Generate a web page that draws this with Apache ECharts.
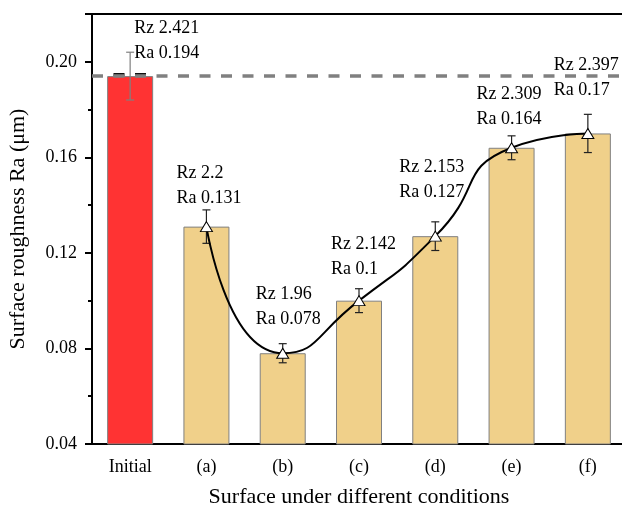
<!DOCTYPE html>
<html>
<head>
<meta charset="utf-8">
<script src="https://cdn.jsdelivr.net/npm/echarts@6/dist/echarts.min.js"></script>
<style>
  html, body { margin: 0; padding: 0; background: #fff; }
  #chart { width: 622px; height: 511px; }
</style>
</head>
<body>
<div id="chart"></div>
<script>
// Surface roughness for each surface condition
const categories = ['Initial', '(a)', '(b)', '(c)', '(d)', '(e)', '(f)'];
const raValues = [0.194, 0.131, 0.078, 0.1, 0.127, 0.164, 0.17];
const rzValues = [2.421, 2.2, 1.96, 2.142, 2.153, 2.309, 2.397];
const raErrors = [0.010, 0.007, 0.004, 0.005, 0.006, 0.005, 0.008];
const yTicks = [0.04, 0.08, 0.12, 0.16, 0.20];

// Placement of the "Rz / Ra" annotation relative to each bar top (pixels)
const labelOffsets = [[4, -10], [-30, -16], [-27, -21], [-28, -19], [-36, -31], [-35, -16], [-34, -31]];

const FONT = 'Liberation Serif';
const RED = '#FF3333';
const TAN = '#F0D08A';
const BAR_WIDTH = 46;
const GRID_LEFT = 92;
const DASH = [11, 10.5];

const chart = echarts.init(document.getElementById('chart'), null, { renderer: 'canvas' });

const barData = raValues.map((v, i) => ({
  value: v,
  itemStyle: { color: i === 0 ? RED : TAN },
  label: { offset: labelOffsets[i] }
}));

const errData = raValues.map((v, i) => [i, v - raErrors[i], v + raErrors[i]]);
const trendData = raValues.map((v, i) => (i === 0 ? '-' : v));

const option = {
  animation: false,
  backgroundColor: '#fff',
  textStyle: { fontFamily: FONT },
  grid: { left: GRID_LEFT, top: 14, width: 534, bottom: 67, containLabel: false, outerBoundsMode: 'none' },
  xAxis: [
    {
      type: 'category',
      data: categories,
      position: 'bottom',
      name: 'Surface under different conditions',
      nameLocation: 'middle',
      nameGap: 42,
      nameTextStyle: { fontFamily: FONT, fontSize: 22, color: '#000' },
      axisLine: { lineStyle: { color: '#000', width: 2 } },
      axisTick: { alignWithLabel: true, length: 7, inside: false, lineStyle: { color: '#000', width: 2 } },
      axisLabel: { fontFamily: FONT, fontSize: 18, color: '#000', margin: 14 },
      splitLine: { show: false }
    },
    {
      type: 'category',
      data: categories,
      position: 'top',
      axisLine: { lineStyle: { color: '#000', width: 2 } },
      axisTick: { show: false },
      axisLabel: { show: false },
      splitLine: { show: false }
    }
  ],
  yAxis: {
    type: 'value',
    min: yTicks[0],
    max: 0.22,
    interval: 0.04,
    name: 'Surface roughness Ra (μm)',
    nameLocation: 'middle',
    nameGap: 63,
    nameTextStyle: { fontFamily: FONT, fontSize: 22, color: '#000' },
    axisLine: { show: true, lineStyle: { color: '#000', width: 2 } },
    axisTick: { show: true, length: 7, lineStyle: { color: '#000', width: 2 } },
    minorTick: { show: true, splitNumber: 2, length: 4, lineStyle: { color: '#000', width: 2 } },
    axisLabel: {
      fontFamily: FONT, fontSize: 18, color: '#000', margin: 15,
      showMaxLabel: false,
      formatter: v => (yTicks.some(t => Math.abs(t - v) < 1e-9) ? v.toFixed(2) : '')
    },
    splitLine: { show: false }
  },
  series: [
    {
      // reference level of the initial surface, drawn beneath the bars
      name: 'initial level',
      type: 'line',
      data: [],
      z: 1,
      markLine: {
        silent: true,
        precision: 3,
        symbol: ['none', 'none'],
        label: { show: false },
        lineStyle: { color: '#808080', width: 3.5, type: DASH },
        data: [{ yAxis: raValues[0] }]
      }
    },
    {
      name: 'Ra',
      type: 'bar',
      data: barData,
      barWidth: BAR_WIDTH,
      z: 2,
      itemStyle: { borderColor: '#808080', borderWidth: 1 },
      label: {
        show: true,
        position: 'top',
        distance: 0,
        align: 'left',
        verticalAlign: 'bottom',
        fontFamily: FONT,
        fontSize: 18,
        lineHeight: 25,
        color: '#000',
        formatter: p => 'Rz ' + rzValues[p.dataIndex] + '\nRa ' + raValues[p.dataIndex]
      }
    },
    {
      name: 'error',
      type: 'custom',
      z: 3,
      data: errData,
      renderItem: (params, api) => {
        const idx = api.value(0);
        const lo = api.coord([idx, api.value(1)]);
        const hi = api.coord([idx, api.value(2)]);
        const cap = 4;
        const color = idx === 0 ? '#808080' : '#222';
        const style = { stroke: color, lineWidth: 1.2 };
        const children = [];
        if (idx === 0) {
          // dark dashes where the reference level meets the top of the initial bar
          const top = api.coord([idx, raValues[0]]);
          const x0 = top[0] - BAR_WIDTH / 2;
          children.push({
            type: 'line',
            shape: { x1: x0, y1: top[1] - 1.5, x2: x0 + BAR_WIDTH, y2: top[1] - 1.5 },
            style: { stroke: '#111', lineWidth: 3, lineDash: DASH, lineDashOffset: x0 - GRID_LEFT }
          });
        }
        children.push(
          { type: 'line', shape: { x1: hi[0], y1: hi[1], x2: lo[0], y2: lo[1] }, style },
          { type: 'line', shape: { x1: hi[0] - cap, y1: hi[1], x2: hi[0] + cap, y2: hi[1] }, style },
          { type: 'line', shape: { x1: lo[0] - cap, y1: lo[1], x2: lo[0] + cap, y2: lo[1] }, style }
        );
        return { type: 'group', children };
      }
    },
    {
      name: 'trend',
      type: 'line',
      z: 4,
      data: trendData,
      smooth: 0.6,
      symbol: 'triangle',
      symbolSize: [12, 10],
      showSymbol: true,
      lineStyle: { color: '#000', width: 2 },
      itemStyle: { color: '#fff', borderColor: '#000', borderWidth: 1 }
    }
  ]
};

chart.setOption(option);
</script>
</body>
</html>
